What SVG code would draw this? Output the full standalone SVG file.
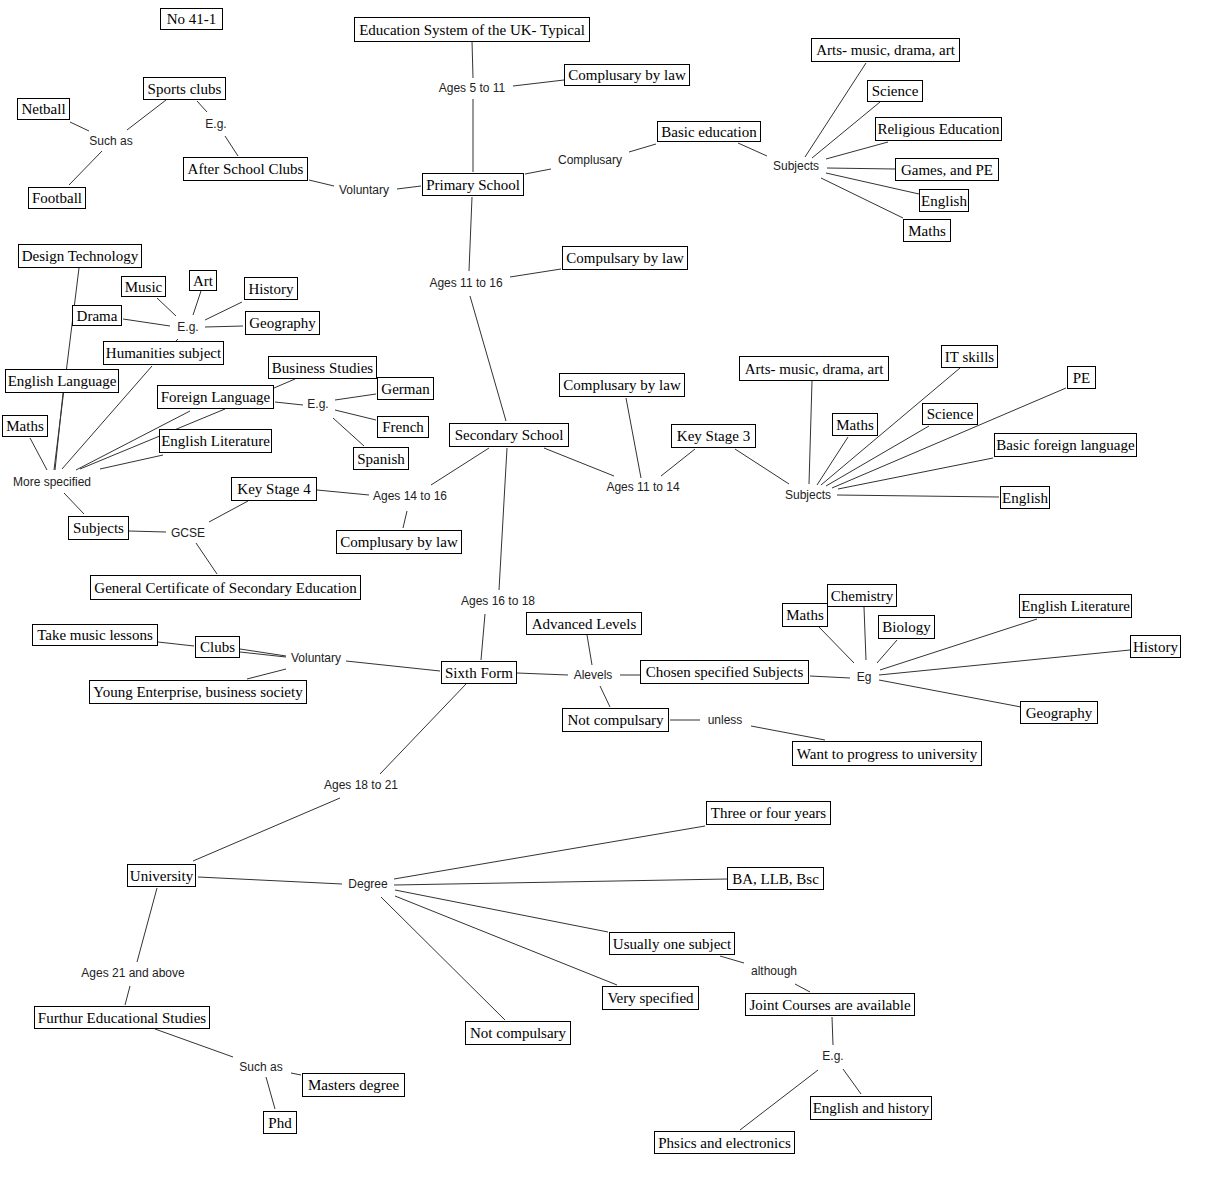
<svg xmlns="http://www.w3.org/2000/svg" width="1223" height="1193" viewBox="0 0 1223 1193">
<style>
.bg{fill:#fff}
.node rect{fill:#fff;stroke:#000;stroke-width:1}
.node text{font-family:"Liberation Serif","Times New Roman",serif;font-size:15px;fill:#000;text-anchor:middle}
.lbl text{font-family:"Liberation Sans",Arial,sans-serif;font-size:12px;fill:#222;text-anchor:middle}
#connectors line{stroke:#333;stroke-width:1}
</style>
<rect class="bg" x="0" y="0" width="1223" height="1193"/>
<g id="connectors">
<line x1="472" y1="41" x2="473" y2="78"/>
<line x1="473" y1="99" x2="473" y2="172"/>
<line x1="513" y1="86" x2="564" y2="80"/>
<line x1="525" y1="174" x2="551" y2="169"/>
<line x1="629" y1="152" x2="656" y2="144"/>
<line x1="738" y1="143" x2="767" y2="156"/>
<line x1="805" y1="157" x2="866" y2="63"/>
<line x1="812" y1="158" x2="880" y2="102"/>
<line x1="826" y1="159" x2="888" y2="142"/>
<line x1="827" y1="168" x2="895" y2="169"/>
<line x1="826" y1="173" x2="919" y2="194"/>
<line x1="821" y1="178" x2="903" y2="218"/>
<line x1="70" y1="122" x2="89" y2="131"/>
<line x1="127" y1="130" x2="166" y2="100"/>
<line x1="102" y1="151" x2="69" y2="185"/>
<line x1="197" y1="101" x2="207" y2="112"/>
<line x1="225" y1="136" x2="238" y2="156"/>
<line x1="309" y1="180" x2="334" y2="186"/>
<line x1="397" y1="189" x2="421" y2="186"/>
<line x1="472" y1="197" x2="469" y2="271"/>
<line x1="510" y1="277" x2="561" y2="269"/>
<line x1="470" y1="296" x2="506" y2="421"/>
<line x1="544" y1="448" x2="614" y2="476"/>
<line x1="626" y1="398" x2="641" y2="478"/>
<line x1="695" y1="449" x2="661" y2="476"/>
<line x1="735" y1="449" x2="789" y2="484"/>
<line x1="812" y1="381" x2="809" y2="484"/>
<line x1="848" y1="437" x2="817" y2="485"/>
<line x1="960" y1="368" x2="821" y2="485"/>
<line x1="929" y1="426" x2="826" y2="486"/>
<line x1="1066" y1="388" x2="832" y2="488"/>
<line x1="993" y1="458" x2="838" y2="489"/>
<line x1="837" y1="495" x2="999" y2="497"/>
<line x1="489" y1="448" x2="431" y2="485"/>
<line x1="507" y1="448" x2="499" y2="590"/>
<line x1="79" y1="268" x2="54" y2="470"/>
<line x1="63" y1="393" x2="55" y2="470"/>
<line x1="157" y1="298" x2="176" y2="316"/>
<line x1="201" y1="291" x2="193" y2="315"/>
<line x1="242" y1="302" x2="205" y2="320"/>
<line x1="123" y1="319" x2="170" y2="326"/>
<line x1="205" y1="327" x2="243" y2="326"/>
<line x1="178" y1="339" x2="176" y2="341"/>
<line x1="152" y1="366" x2="62" y2="469"/>
<line x1="295" y1="379" x2="274" y2="388"/>
<line x1="275" y1="402" x2="303" y2="405"/>
<line x1="335" y1="400" x2="376" y2="394"/>
<line x1="335" y1="410" x2="376" y2="420"/>
<line x1="333" y1="418" x2="364" y2="446"/>
<line x1="190" y1="411" x2="76" y2="470"/>
<line x1="225" y1="409" x2="80" y2="469"/>
<line x1="163" y1="455" x2="100" y2="469"/>
<line x1="30" y1="438" x2="47" y2="470"/>
<line x1="64" y1="493" x2="84" y2="514"/>
<line x1="129" y1="531" x2="166" y2="532"/>
<line x1="209" y1="522" x2="248" y2="501"/>
<line x1="196" y1="543" x2="217" y2="574"/>
<line x1="317" y1="490" x2="369" y2="495"/>
<line x1="407" y1="511" x2="403" y2="528"/>
<line x1="158" y1="642" x2="194" y2="646"/>
<line x1="240" y1="649" x2="286" y2="656"/>
<line x1="240" y1="652" x2="286" y2="657"/>
<line x1="286" y1="669" x2="247" y2="679"/>
<line x1="346" y1="661" x2="440" y2="671"/>
<line x1="485" y1="614" x2="481" y2="660"/>
<line x1="517" y1="673" x2="568" y2="675"/>
<line x1="592" y1="665" x2="587" y2="635"/>
<line x1="620" y1="675" x2="640" y2="675"/>
<line x1="600" y1="686" x2="610" y2="707"/>
<line x1="670" y1="720" x2="700" y2="720"/>
<line x1="751" y1="726" x2="825" y2="740"/>
<line x1="810" y1="676" x2="850" y2="678"/>
<line x1="854" y1="663" x2="819" y2="627"/>
<line x1="866" y1="660" x2="864" y2="607"/>
<line x1="877" y1="663" x2="897" y2="640"/>
<line x1="880" y1="670" x2="1037" y2="619"/>
<line x1="879" y1="675" x2="1130" y2="650"/>
<line x1="879" y1="680" x2="1021" y2="707"/>
<line x1="466" y1="684" x2="380" y2="774"/>
<line x1="340" y1="798" x2="193" y2="861"/>
<line x1="198" y1="877" x2="342" y2="884"/>
<line x1="394" y1="879" x2="705" y2="826"/>
<line x1="394" y1="885" x2="727" y2="879"/>
<line x1="395" y1="890" x2="608" y2="932"/>
<line x1="395" y1="896" x2="617" y2="985"/>
<line x1="381" y1="897" x2="505" y2="1020"/>
<line x1="157" y1="888" x2="137" y2="962"/>
<line x1="130" y1="986" x2="125" y2="1005"/>
<line x1="155" y1="1029" x2="233" y2="1057"/>
<line x1="291" y1="1073" x2="301" y2="1075"/>
<line x1="266" y1="1077" x2="275" y2="1109"/>
<line x1="720" y1="956" x2="744" y2="963"/>
<line x1="795" y1="984" x2="810" y2="992"/>
<line x1="832" y1="1017" x2="833" y2="1045"/>
<line x1="843" y1="1069" x2="861" y2="1094"/>
<line x1="818" y1="1070" x2="740" y2="1130"/>
</g>
<g id="labels">
<g class="lbl" id="l-ages5"><text x="472" y="92">Ages 5 to 11</text></g>
<g class="lbl" id="l-compl"><text x="590" y="164">Complusary</text></g>
<g class="lbl" id="l-subj1"><text x="796" y="170">Subjects</text></g>
<g class="lbl" id="l-suchas1"><text x="111" y="145">Such as</text></g>
<g class="lbl" id="l-eg1"><text x="216" y="128">E.g.</text></g>
<g class="lbl" id="l-vol1"><text x="364" y="194">Voluntary</text></g>
<g class="lbl" id="l-ages11-16"><text x="466" y="287">Ages 11 to 16</text></g>
<g class="lbl" id="l-ages11-14"><text x="643" y="491">Ages 11 to 14</text></g>
<g class="lbl" id="l-subj2"><text x="808" y="499">Subjects</text></g>
<g class="lbl" id="l-eg2"><text x="188" y="331">E.g.</text></g>
<g class="lbl" id="l-eg3"><text x="318" y="408">E.g.</text></g>
<g class="lbl" id="l-more"><text x="52" y="486">More specified</text></g>
<g class="lbl" id="l-ages14"><text x="410" y="500">Ages 14 to 16</text></g>
<g class="lbl" id="l-gcse"><text x="188" y="537">GCSE</text></g>
<g class="lbl" id="l-ages16"><text x="498" y="605">Ages 16 to 18</text></g>
<g class="lbl" id="l-vol2"><text x="316" y="662">Voluntary</text></g>
<g class="lbl" id="l-alevels"><text x="593" y="679">Alevels</text></g>
<g class="lbl" id="l-eg4"><text x="864" y="681">Eg</text></g>
<g class="lbl" id="l-unless"><text x="725" y="724">unless</text></g>
<g class="lbl" id="l-ages18"><text x="361" y="789">Ages 18 to 21</text></g>
<g class="lbl" id="l-degree"><text x="368" y="888">Degree</text></g>
<g class="lbl" id="l-ages21"><text x="133" y="977">Ages 21 and above</text></g>
<g class="lbl" id="l-suchas2"><text x="261" y="1071">Such as</text></g>
<g class="lbl" id="l-although"><text x="774" y="975">although</text></g>
<g class="lbl" id="l-eg5"><text x="833" y="1060">E.g.</text></g>
</g>
<g id="nodes">
<g class="node" id="n-no41"><rect x="160.5" y="8.5" width="62" height="21"/><text x="191.5" y="24">No 41-1</text></g>
<g class="node" id="n-edu"><rect x="354.5" y="17.5" width="235" height="24"/><text x="472" y="34.5">Education System of the UK- Typical</text></g>
<g class="node" id="n-cbl1"><rect x="564.5" y="64.5" width="125" height="21"/><text x="627" y="80">Complusary by law</text></g>
<g class="node" id="n-basic"><rect x="657.5" y="121.5" width="103" height="20"/><text x="709" y="136.5">Basic education</text></g>
<g class="node" id="n-primary"><rect x="422.5" y="173.5" width="101" height="22"/><text x="473" y="189.5">Primary School</text></g>
<g class="node" id="n-arts1"><rect x="811.5" y="38.5" width="148" height="23"/><text x="885.5" y="55">Arts- music, drama, art</text></g>
<g class="node" id="n-sci1"><rect x="867.5" y="80.5" width="55" height="21"/><text x="895" y="96">Science</text></g>
<g class="node" id="n-re"><rect x="875.5" y="117.5" width="126" height="23"/><text x="938.5" y="134">Religious Education</text></g>
<g class="node" id="n-games"><rect x="895.5" y="158.5" width="103" height="22"/><text x="947" y="174.5">Games, and PE</text></g>
<g class="node" id="n-eng1"><rect x="919.5" y="189.5" width="49" height="22"/><text x="944" y="205.5">English</text></g>
<g class="node" id="n-maths1"><rect x="903.5" y="219.5" width="47" height="22"/><text x="927" y="235.5">Maths</text></g>
<g class="node" id="n-sports"><rect x="143.5" y="77.5" width="82" height="22"/><text x="184.5" y="93.5">Sports clubs</text></g>
<g class="node" id="n-netball"><rect x="17.5" y="98.5" width="52" height="21"/><text x="43.5" y="114">Netball</text></g>
<g class="node" id="n-football"><rect x="28.5" y="187.5" width="57" height="21"/><text x="57" y="203">Football</text></g>
<g class="node" id="n-asc"><rect x="183.5" y="157.5" width="124" height="23"/><text x="245.5" y="174">After School Clubs</text></g>
<g class="node" id="n-cbl2"><rect x="562.5" y="246.5" width="125" height="23"/><text x="625" y="263">Compulsary by law</text></g>
<g class="node" id="n-secondary"><rect x="449.5" y="423.5" width="119" height="23"/><text x="509" y="440">Secondary School</text></g>
<g class="node" id="n-cbl3"><rect x="559.5" y="373.5" width="125" height="23"/><text x="622" y="390">Complusary by law</text></g>
<g class="node" id="n-ks3"><rect x="671.5" y="424.5" width="84" height="23"/><text x="713.5" y="441">Key Stage 3</text></g>
<g class="node" id="n-arts2"><rect x="739.5" y="356.5" width="149" height="24"/><text x="814" y="373.5">Arts- music, drama, art</text></g>
<g class="node" id="n-it"><rect x="941.5" y="345.5" width="56" height="22"/><text x="969.5" y="361.5">IT skills</text></g>
<g class="node" id="n-pe"><rect x="1067.5" y="366.5" width="28" height="22"/><text x="1081.5" y="382.5">PE</text></g>
<g class="node" id="n-maths2"><rect x="832.5" y="413.5" width="45" height="22"/><text x="855" y="429.5">Maths</text></g>
<g class="node" id="n-sci2"><rect x="922.5" y="403.5" width="55" height="21"/><text x="950" y="419">Science</text></g>
<g class="node" id="n-bfl"><rect x="994.5" y="433.5" width="142" height="23"/><text x="1065.5" y="450">Basic foreign language</text></g>
<g class="node" id="n-eng2"><rect x="1000.5" y="486.5" width="49" height="22"/><text x="1025" y="502.5">English</text></g>
<g class="node" id="n-dt"><rect x="18.5" y="244.5" width="123" height="23"/><text x="80" y="261">Design Technology</text></g>
<g class="node" id="n-music"><rect x="121.5" y="276.5" width="44" height="20"/><text x="143.5" y="291.5">Music</text></g>
<g class="node" id="n-art"><rect x="189.5" y="270.5" width="27" height="20"/><text x="203" y="285.5">Art</text></g>
<g class="node" id="n-history1"><rect x="244.5" y="277.5" width="53" height="22"/><text x="271" y="293.5">History</text></g>
<g class="node" id="n-drama"><rect x="72.5" y="305.5" width="49" height="20"/><text x="97" y="320.5">Drama</text></g>
<g class="node" id="n-geo1"><rect x="245.5" y="311.5" width="74" height="23"/><text x="282.5" y="328">Geography</text></g>
<g class="node" id="n-hum"><rect x="103.5" y="341.5" width="120" height="23"/><text x="163.5" y="358">Humanities subject</text></g>
<g class="node" id="n-bus"><rect x="268.5" y="356.5" width="108" height="22"/><text x="322.5" y="372.5">Business Studies</text></g>
<g class="node" id="n-englang"><rect x="5.5" y="369.5" width="113" height="23"/><text x="62" y="386">English Language</text></g>
<g class="node" id="n-german"><rect x="377.5" y="377.5" width="56" height="22"/><text x="405.5" y="393.5">German</text></g>
<g class="node" id="n-fl"><rect x="157.5" y="385.5" width="116" height="23"/><text x="215.5" y="402">Foreign Language</text></g>
<g class="node" id="n-maths3"><rect x="2.5" y="415.5" width="45" height="21"/><text x="25" y="431">Maths</text></g>
<g class="node" id="n-french"><rect x="377.5" y="416.5" width="51" height="21"/><text x="403" y="432">French</text></g>
<g class="node" id="n-englit1"><rect x="159.5" y="429.5" width="112" height="23"/><text x="215.5" y="446">English Literature</text></g>
<g class="node" id="n-spanish"><rect x="353.5" y="447.5" width="55" height="22"/><text x="381" y="463.5">Spanish</text></g>
<g class="node" id="n-ks4"><rect x="231.5" y="477.5" width="85" height="23"/><text x="274" y="494">Key Stage 4</text></g>
<g class="node" id="n-subjL"><rect x="68.5" y="516.5" width="60" height="23"/><text x="98.5" y="533">Subjects</text></g>
<g class="node" id="n-cbl4"><rect x="336.5" y="530.5" width="125" height="23"/><text x="399" y="547">Complusary by law</text></g>
<g class="node" id="n-gcse"><rect x="90.5" y="575.5" width="270" height="24"/><text x="225.5" y="592.5">General Certificate of Secondary Education</text></g>
<g class="node" id="n-musiclessons"><rect x="32.5" y="624.5" width="125" height="21"/><text x="95" y="640">Take music lessons</text></g>
<g class="node" id="n-clubs"><rect x="195.5" y="636.5" width="44" height="21"/><text x="217.5" y="652">Clubs</text></g>
<g class="node" id="n-ye"><rect x="89.5" y="680.5" width="217" height="23"/><text x="198" y="697">Young Enterprise, business society</text></g>
<g class="node" id="n-sixth"><rect x="441.5" y="661.5" width="75" height="22"/><text x="479" y="677.5">Sixth Form</text></g>
<g class="node" id="n-adv"><rect x="526.5" y="612.5" width="115" height="22"/><text x="584" y="628.5">Advanced Levels</text></g>
<g class="node" id="n-chosen"><rect x="640.5" y="660.5" width="168" height="23"/><text x="724.5" y="677">Chosen specified Subjects</text></g>
<g class="node" id="n-notc1"><rect x="562.5" y="708.5" width="106" height="23"/><text x="615.5" y="725">Not compulsary</text></g>
<g class="node" id="n-want"><rect x="792.5" y="741.5" width="189" height="24"/><text x="887" y="758.5">Want to progress to university</text></g>
<g class="node" id="n-maths4"><rect x="782.5" y="603.5" width="45" height="23"/><text x="805" y="620">Maths</text></g>
<g class="node" id="n-chem"><rect x="827.5" y="584.5" width="69" height="22"/><text x="862" y="600.5">Chemistry</text></g>
<g class="node" id="n-bio"><rect x="878.5" y="615.5" width="56" height="23"/><text x="906.5" y="632">Biology</text></g>
<g class="node" id="n-englit2"><rect x="1019.5" y="594.5" width="112" height="23"/><text x="1075.5" y="611">English Literature</text></g>
<g class="node" id="n-history2"><rect x="1130.5" y="635.5" width="50" height="22"/><text x="1155.5" y="651.5">History</text></g>
<g class="node" id="n-geo2"><rect x="1020.5" y="701.5" width="77" height="22"/><text x="1059" y="717.5">Geography</text></g>
<g class="node" id="n-uni"><rect x="127.5" y="864.5" width="68" height="22"/><text x="161.5" y="880.5">University</text></g>
<g class="node" id="n-further"><rect x="34.5" y="1006.5" width="175" height="22"/><text x="122" y="1022.5">Furthur Educational Studies</text></g>
<g class="node" id="n-masters"><rect x="302.5" y="1073.5" width="102" height="23"/><text x="353.5" y="1090">Masters degree</text></g>
<g class="node" id="n-phd"><rect x="263.5" y="1111.5" width="33" height="22"/><text x="280" y="1127.5">Phd</text></g>
<g class="node" id="n-notc2"><rect x="465.5" y="1021.5" width="105" height="23"/><text x="518" y="1038">Not compulsary</text></g>
<g class="node" id="n-three"><rect x="706.5" y="801.5" width="124" height="23"/><text x="768.5" y="818">Three or four years</text></g>
<g class="node" id="n-ba"><rect x="727.5" y="867.5" width="96" height="22"/><text x="775.5" y="883.5">BA, LLB, Bsc</text></g>
<g class="node" id="n-usually"><rect x="609.5" y="932.5" width="125" height="22"/><text x="672" y="948.5">Usually one subject</text></g>
<g class="node" id="n-very"><rect x="602.5" y="986.5" width="96" height="23"/><text x="650.5" y="1003">Very specified</text></g>
<g class="node" id="n-joint"><rect x="745.5" y="993.5" width="169" height="22"/><text x="830" y="1009.5">Joint Courses are available</text></g>
<g class="node" id="n-englhist"><rect x="810.5" y="1096.5" width="121" height="23"/><text x="871" y="1113">English and history</text></g>
<g class="node" id="n-phys"><rect x="654.5" y="1131.5" width="140" height="22"/><text x="724.5" y="1147.5">Phsics and electronics</text></g>
</g>
</svg>
